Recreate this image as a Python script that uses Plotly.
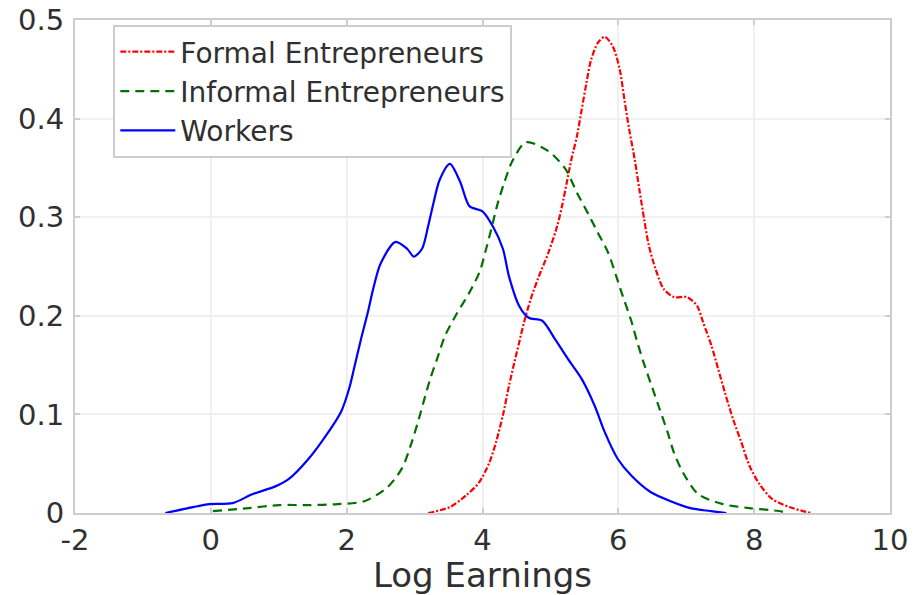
import plotly.graph_objects as go

# Kernel density estimates of log earnings by occupational group
workers_x = [-0.67, -0.26, -0.02, 0.32, 0.61, 0.95, 1.14, 1.44, 1.73, 1.92, 2.04, 2.11, 2.21,
             2.31, 2.40, 2.50, 2.72, 2.89, 2.99, 3.11, 3.20, 3.28, 3.37, 3.52, 3.67, 3.81,
             4.00, 4.15, 4.30, 4.39, 4.54, 4.68, 4.88, 5.07, 5.26, 5.46, 5.65, 5.80, 5.99,
             6.19, 6.48, 6.77, 7.06, 7.35, 7.59]
workers_y = [0.000, 0.006, 0.009, 0.010, 0.019, 0.027, 0.034, 0.055, 0.082, 0.103, 0.127, 0.147,
             0.176, 0.203, 0.230, 0.253, 0.275, 0.268, 0.260, 0.268, 0.291, 0.315, 0.338, 0.354,
             0.336, 0.311, 0.306, 0.291, 0.268, 0.240, 0.210, 0.198, 0.195, 0.176, 0.156, 0.136,
             0.109, 0.082, 0.055, 0.038, 0.021, 0.012, 0.005, 0.002, 0.000]

informal_x = [0.03, 0.56, 1.00, 1.44, 1.87, 2.26, 2.60, 2.82, 2.94, 3.04, 3.13, 3.23, 3.33,
              3.45, 3.62, 3.81, 3.96, 4.05, 4.13, 4.22, 4.32, 4.44, 4.64, 4.97, 5.22, 5.39,
              5.56, 5.70, 5.85, 5.97, 6.07, 6.19, 6.28, 6.38, 6.50, 6.60, 6.72, 6.82, 6.96,
              7.18, 7.54, 7.93, 8.36, 8.50]
informal_y = [0.002, 0.005, 0.008, 0.008, 0.009, 0.012, 0.026, 0.046, 0.068, 0.090, 0.112,
              0.136, 0.156, 0.180, 0.202, 0.224, 0.245, 0.267, 0.288, 0.313, 0.335, 0.357,
              0.376, 0.367, 0.349, 0.325, 0.303, 0.284, 0.264, 0.240, 0.219, 0.195, 0.173,
              0.151, 0.127, 0.107, 0.083, 0.061, 0.040, 0.019, 0.009, 0.005, 0.002, 0.000]

formal_x = [3.20, 3.52, 3.76, 3.95, 4.10, 4.20, 4.30, 4.39, 4.47, 4.54, 4.61, 4.71, 4.83,
            4.97, 5.10, 5.17, 5.24, 5.31, 5.39, 5.46, 5.53, 5.60, 5.70, 5.80, 5.92, 6.02,
            6.09, 6.16, 6.24, 6.31, 6.38, 6.45, 6.55, 6.67, 6.82, 7.01, 7.16, 7.25, 7.37,
            7.47, 7.57, 7.69, 7.81, 7.93, 8.08, 8.27, 8.52, 8.83]
formal_y = [0.000, 0.006, 0.018, 0.031, 0.051, 0.072, 0.099, 0.129, 0.153, 0.173, 0.193,
            0.217, 0.240, 0.264, 0.291, 0.311, 0.335, 0.359, 0.382, 0.409, 0.436, 0.460,
            0.477, 0.483, 0.473, 0.450, 0.419, 0.389, 0.359, 0.328, 0.298, 0.271, 0.247,
            0.227, 0.219, 0.219, 0.210, 0.193, 0.170, 0.146, 0.122, 0.095, 0.072, 0.048,
            0.029, 0.014, 0.006, 0.000]

x_ticks = [-2, 0, 2, 4, 6, 8, 10]
x_tick_labels = ["-2", "0", "2", "4", "6", "8", "10"]
y_ticks = [0, 0.1, 0.2, 0.3, 0.4, 0.5]
y_tick_labels = ["0", "0.1", "0.2", "0.3", "0.4", "0.5"]

FONT = "DejaVu Sans"
TEXT = "#303030"
FRAME = "#cdcdcd"

fig = go.Figure()
fig.add_trace(go.Scatter(
    x=formal_x, y=formal_y, mode="lines", name="Formal Entrepreneurs",
    line=dict(color="#ff0000", width=2.2, dash="6px,2px,2px,2px", shape="spline", smoothing=0.8),
))
fig.add_trace(go.Scatter(
    x=informal_x, y=informal_y, mode="lines", name="Informal Entrepreneurs",
    line=dict(color="#007000", width=2.2, dash="9px,6px", shape="spline", smoothing=0.8),
))
fig.add_trace(go.Scatter(
    x=workers_x, y=workers_y, mode="lines", name="Workers",
    line=dict(color="#0000ff", width=2.2, shape="spline", smoothing=0.8),
))

axis_common = dict(
    showline=True, linecolor=FRAME, linewidth=2, mirror="ticks",
    ticks="inside", ticklen=5, tickwidth=2, tickcolor=FRAME,
    showgrid=True, gridcolor="#f0f0f0", gridwidth=2,
    zeroline=False, automargin=False,
    tickfont=dict(family=FONT, size=29, color=TEXT),
)

fig.update_layout(
    width=914, height=595,
    margin=dict(l=75, r=24, t=20, b=82),
    paper_bgcolor="white", plot_bgcolor="white",
    font=dict(family=FONT, color=TEXT),
    showlegend=True,
    legend=dict(
        x=0.047, y=0.99, xanchor="left", yanchor="top",
        bgcolor="white", bordercolor=FRAME, borderwidth=2,
        font=dict(family=FONT, size=28, color=TEXT),
        itemwidth=55, tracegroupgap=0,
    ),
    xaxis=dict(
        range=[-2, 10], tickvals=x_ticks, ticktext=x_tick_labels,
        title=dict(text="Log Earnings", font=dict(family=FONT, size=34, color=TEXT), standoff=6),
        **axis_common,
    ),
    yaxis=dict(
        range=[0, 0.5], tickvals=y_ticks, ticktext=y_tick_labels,
        ticklabelstandoff=3,
        **axis_common,
    ),
)

fig.write_html("out.html")
